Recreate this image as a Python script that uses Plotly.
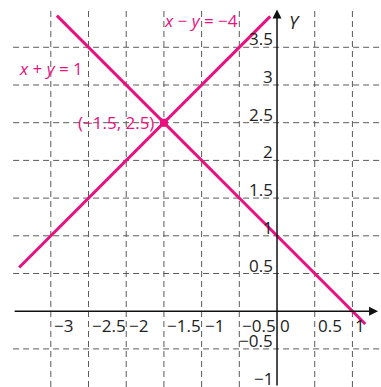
import plotly.graph_objects as go

PINK = "#e8117f"
GRID = "#5a5a5a"
FONT = "Open Sans"

# tick values and labels
x_ticks = [-3, -2.5, -2, -1.5, -1, -0.5, 0, 0.5, 1]
x_tick_text = ["−3", "−2.5", "−2", "−1.5", "−1", "−0.5", "0", "0.5", "1"]
y_ticks = [-1, -0.5, 0.5, 1, 1.5, 2, 2.5, 3, 3.5]
y_tick_text = ["−1", "−0.5", "0.5", "1", "1.5", "2", "2.5", "3", "3.5"]
grid_x = [-3, -2.5, -2, -1.5, -1, -0.5, 0.5, 1]
grid_y = [-0.5, 0.5, 1, 1.5, 2, 2.5, 3, 3.5]

# the two lines, end points as drawn
line_sum_x = [-2.92, 1.17]
line_sum_y = [3.92, -0.17]
line_diff_x = [-3.42, -0.09]
line_diff_y = [0.58, 3.91]
meet_x = [-1.5]
meet_y = [2.5]

X_RANGE = [-3.674, 1.379]
Y_RANGE = [-1.005, 4.127]

fig = go.Figure()

grid_style = dict(type="line", xref="x", yref="y", layer="below",
                  line=dict(color=GRID, width=1, dash="6px,4px"))
shapes = []
for gx in grid_x:
    shapes.append(dict(grid_style, x0=gx, x1=gx, y0=Y_RANGE[0], y1=4.0))
for gy in grid_y:
    shapes.append(dict(grid_style, x0=-3.5, x1=X_RANGE[1], y0=gy, y1=gy))

fig.add_trace(go.Scatter(x=line_sum_x, y=line_sum_y, mode="lines",
                         line=dict(color=PINK, width=3), hoverinfo="skip"))
fig.add_trace(go.Scatter(x=line_diff_x, y=line_diff_y, mode="lines",
                         line=dict(color=PINK, width=3), hoverinfo="skip"))
fig.add_trace(go.Scatter(x=meet_x, y=meet_y, mode="markers",
                         marker=dict(color=PINK, size=8, symbol="square"),
                         hoverinfo="skip"))

ann = []
# axes with arrowheads
ann.append(dict(x=1.34, y=0, ax=-3.5, ay=0, xref="x", yref="y", axref="x", ayref="y",
                showarrow=True, arrowhead=2, arrowsize=1.2, arrowwidth=1.5,
                arrowcolor="#111", text=""))
ann.append(dict(x=0, y=4.0, ax=0, ay=Y_RANGE[0], xref="x", yref="y", axref="x", ayref="y",
                showarrow=True, arrowhead=2, arrowsize=1.2, arrowwidth=1.5,
                arrowcolor="#111", text=""))

tick_font = dict(family=FONT, size=17, color="#222")
for v, t in zip(x_ticks, x_tick_text):
    ann.append(dict(x=v, y=0, text=t, showarrow=False, xanchor="left", yanchor="top",
                    xshift=1, yshift=-1, font=tick_font))
for v, t in zip(y_ticks, y_tick_text):
    ann.append(dict(x=0, y=v, text=t, showarrow=False, xanchor="right", yanchor="bottom",
                    xshift=-2, yshift=-5, font=tick_font))

ann.append(dict(x=0.13, y=3.84, text="<i>Y</i>", showarrow=False, xanchor="left",
                yanchor="middle", font=dict(tick_font, size=18)))
ann.append(dict(x=1.37, y=-0.2, text="<i>X</i>", showarrow=False, xanchor="left",
                yanchor="middle", font=dict(tick_font, size=18)))

eq_font = dict(family=FONT, size=17, color=PINK)
ann.append(dict(x=-3.45, y=3.22, text="<i>x</i> + <i>y</i> = 1", showarrow=False,
                xanchor="left", yanchor="middle", font=eq_font))
ann.append(dict(x=-1.53, y=3.85, text="<i>x</i> − <i>y</i> = −4", showarrow=False,
                xanchor="left", yanchor="middle", font=eq_font))
ann.append(dict(x=meet_x[0], y=meet_y[0], text="(−1.5, 2.5)", showarrow=False,
                xanchor="right", yanchor="middle", xshift=-8, font=eq_font))

fig.update_layout(
    width=381, height=387,
    margin=dict(l=0, r=0, t=0, b=0),
    paper_bgcolor="white", plot_bgcolor="white",
    showlegend=False,
    xaxis=dict(range=X_RANGE, visible=False, fixedrange=True),
    yaxis=dict(range=Y_RANGE, visible=False, fixedrange=True),
    shapes=shapes,
    annotations=ann,
)

# drop the page's default body margin so the figure fills the window
fig.write_html("out.html", config={"displayModeBar": False},
               post_script="document.body.style.margin='0';")
